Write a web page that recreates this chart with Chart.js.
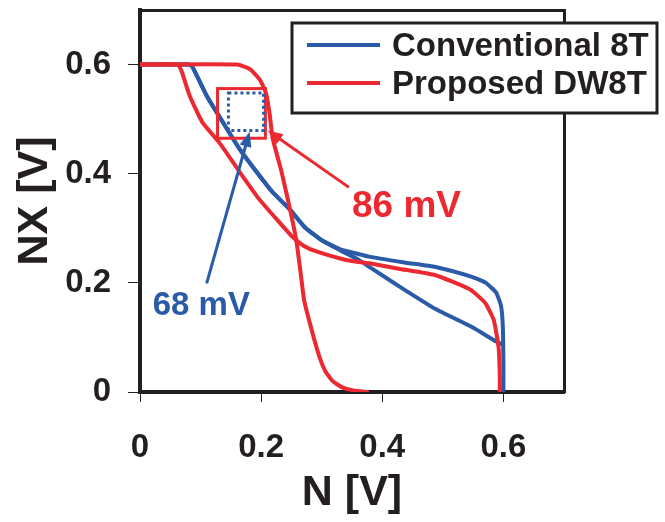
<!DOCTYPE html>
<html>
<head>
<meta charset="utf-8">
<title>Butterfly curves: Conventional 8T vs Proposed DW8T</title>
<script src="https://cdn.jsdelivr.net/npm/chart.js@4.4.1/dist/chart.umd.min.js"></script>
<style>
  html, body { margin: 0; padding: 0; background: #fff; }
</style>
</head>
<body>
<canvas id="snm" width="665" height="522"></canvas>
<script>
// series names (legend)
const seriesNames = ["Conventional 8T", "Proposed DW8T"];

// Conventional 8T, curve with the ~0.24 V plateau  [N, NX]
const conv8tA = [
  [0, 0.6], [0.08, 0.6], [0.086, 0.597], [0.110, 0.543], [0.137, 0.494], [0.164, 0.446],
  [0.192, 0.404], [0.219, 0.366], [0.247, 0.335], [0.272, 0.302], [0.300, 0.278], [0.330, 0.262],
  [0.378, 0.248], [0.439, 0.237], [0.488, 0.229], [0.548, 0.211], [0.571, 0.200], [0.588, 0.182],
  [0.596, 0.158], [0.599, 0.12], [0.600, 0.05], [0.600, 0]
];
// Conventional 8T, lower branch
const conv8tB = [
  [0, 0.6], [0.08, 0.6], [0.086, 0.597], [0.110, 0.543], [0.137, 0.494], [0.164, 0.446],
  [0.192, 0.404], [0.219, 0.366], [0.247, 0.335], [0.272, 0.302], [0.300, 0.278], [0.330, 0.260],
  [0.360, 0.243], [0.383, 0.226], [0.433, 0.190], [0.488, 0.152], [0.548, 0.119], [0.589, 0.092],
  [0.597, 0.088]
];
// Proposed DW8T, steep curve
const dw8tA = [
  [0, 0.6], [0.16, 0.6], [0.181, 0.592], [0.198, 0.572], [0.208, 0.548], [0.214, 0.51],
  [0.219, 0.465], [0.234, 0.402], [0.248, 0.333], [0.258, 0.278], [0.265, 0.22], [0.271, 0.168],
  [0.279, 0.132], [0.288, 0.095], [0.297, 0.062], [0.306, 0.038], [0.318, 0.020], [0.333, 0.009],
  [0.352, 0.003], [0.375, 0]
];
// Proposed DW8T, plateau curve
const dw8tB = [
  [0, 0.6], [0.062, 0.6], [0.068, 0.59], [0.082, 0.543], [0.103, 0.494], [0.131, 0.457],
  [0.164, 0.404], [0.197, 0.353], [0.230, 0.311], [0.252, 0.284], [0.27, 0.268], [0.29, 0.258],
  [0.34, 0.242], [0.383, 0.235], [0.427, 0.226], [0.488, 0.214], [0.545, 0.188], [0.57, 0.163],
  [0.584, 0.132], [0.592, 0.082], [0.594, 0.03], [0.594, 0]
];

// ticks
const xTickVals = [0, 0.2, 0.4, 0.6];
const xTickLabels = ["0", "0.2", "0.4", "0.6"];
const yTickVals = [0, 0.2, 0.4, 0.6];
const yTickLabels = ["0", "0.2", "0.4", "0.6"];

// SNM boxes and callouts, in data units [N, NX]
const dwBox = [[0.128, 0.465], [0.207, 0.556]];
const convBox = [[0.146, 0.479], [0.204, 0.548]];
const dwArrow = [[0.345, 0.375], [0.211, 0.479]];
const convArrow = [[0.110, 0.199], [0.181, 0.477]];
const dwText = ["86 mV", 0.350, 0.320];
const convText = ["68 mV", 0.021, 0.141];

const BLUE = "#2b5ba8";
const RED = "#ec2830";
const INK = "#231f20";
const FONT = "'Liberation Sans', Arial, Helvetica, sans-serif";

const toXY = arr => arr.map(p => ({ x: p[0], y: p[1] }));

function arrow(ctx, x0, y0, x1, y1, color) {
  const a = Math.atan2(y1 - y0, x1 - x0);
  const len = 15, hw = 6;
  ctx.strokeStyle = color;
  ctx.fillStyle = color;
  ctx.lineWidth = 3;
  ctx.beginPath();
  ctx.moveTo(x0, y0);
  ctx.lineTo(x1 - Math.cos(a) * len * 0.8, y1 - Math.sin(a) * len * 0.8);
  ctx.stroke();
  ctx.beginPath();
  ctx.moveTo(x1, y1);
  ctx.lineTo(x1 - Math.cos(a) * len - Math.sin(a) * hw, y1 - Math.sin(a) * len + Math.cos(a) * hw);
  ctx.lineTo(x1 - Math.cos(a) * len + Math.sin(a) * hw, y1 - Math.sin(a) * len - Math.cos(a) * hw);
  ctx.closePath();
  ctx.fill();
}

const annotate = {
  id: "annotate",
  afterDatasetsDraw(chart) {
    const ctx = chart.ctx;
    const sx = chart.scales.x, sy = chart.scales.y;
    const px = v => sx.getPixelForValue(v);
    const py = v => sy.getPixelForValue(v);
    ctx.save();
    // red SNM square
    ctx.strokeStyle = RED;
    ctx.lineWidth = 3;
    ctx.strokeRect(px(dwBox[0][0]), py(dwBox[1][1]), px(dwBox[1][0]) - px(dwBox[0][0]), py(dwBox[0][1]) - py(dwBox[1][1]));
    // blue dotted SNM square
    ctx.strokeStyle = BLUE;
    ctx.setLineDash([3, 3]);
    ctx.strokeRect(px(convBox[0][0]), py(convBox[1][1]), px(convBox[1][0]) - px(convBox[0][0]), py(convBox[0][1]) - py(convBox[1][1]));
    ctx.setLineDash([]);
    arrow(ctx, px(dwArrow[0][0]), py(dwArrow[0][1]), px(dwArrow[1][0]), py(dwArrow[1][1]), RED);
    arrow(ctx, px(convArrow[0][0]), py(convArrow[0][1]), px(convArrow[1][0]), py(convArrow[1][1]), BLUE);
    ctx.textAlign = "left";
    ctx.textBaseline = "alphabetic";
    ctx.fillStyle = RED;
    ctx.font = "bold 37px " + FONT;
    ctx.fillText(dwText[0], px(dwText[1]), py(dwText[2]));
    ctx.fillStyle = BLUE;
    ctx.font = "bold 33px " + FONT;
    ctx.fillText(convText[0], px(convText[1]), py(convText[2]));
    ctx.restore();
  },
  afterDraw(chart) {
    // boxed legend, top right
    const ctx = chart.ctx;
    ctx.save();
    ctx.fillStyle = "#fff";
    ctx.fillRect(292, 23, 365, 90);
    ctx.strokeStyle = INK;
    ctx.lineWidth = 3;
    ctx.strokeRect(292, 23, 365, 90);
    const rows = [[seriesNames[0], BLUE, 45], [seriesNames[1], RED, 83]];
    ctx.font = "bold 33px " + FONT;
    ctx.textAlign = "left";
    ctx.textBaseline = "middle";
    rows.forEach(([name, col, y]) => {
      ctx.strokeStyle = col;
      ctx.lineWidth = 4;
      ctx.beginPath();
      ctx.moveTo(307, y);
      ctx.lineTo(380, y);
      ctx.stroke();
      ctx.fillStyle = INK;
      ctx.fillText(name, 392, y + 2);
    });
    ctx.restore();
  }
};

const tickFont = { family: FONT, size: 33, weight: "bold" };
const titleFont = { family: FONT, size: 43, weight: "bold" };

// fixed axis sizes, and no automatic label padding around the plot
const fixSize = (w, h) => s => {
  if (w !== null) s.width = w;
  if (h !== null) s.height = h;
  s.paddingTop = 0; s.paddingBottom = 0; s.paddingLeft = 0; s.paddingRight = 0;
};

new Chart(document.getElementById("snm"), {
  type: "line",
  data: {
    datasets: [
      { label: seriesNames[1], data: toXY(dw8tA), borderColor: RED, order: 0 },
      { label: seriesNames[1], data: toXY(dw8tB), borderColor: RED, order: 0 },
      { label: seriesNames[0], data: toXY(conv8tA), borderColor: BLUE, order: 1 },
      { label: seriesNames[0], data: toXY(conv8tB), borderColor: BLUE, order: 1 }
    ]
  },
  options: {
    responsive: false,
    animation: false,
    elements: {
      point: { radius: 0 },
      line: { borderWidth: 4, tension: 0.15, fill: false, borderCapStyle: "round", borderJoinStyle: "round" }
    },
    layout: { autoPadding: false, padding: { top: 10, right: 101, left: 0, bottom: 0 } },
    plugins: { legend: { display: false }, tooltip: { enabled: false } },
    scales: {
      x: {
        type: "linear", position: "bottom", min: 0, max: 0.7,
        afterBuildTicks: s => { s.ticks = xTickVals.map(v => ({ value: v })); },
        afterFit: fixSize(null, 130),
        grid: { drawOnChartArea: false, drawTicks: true, tickLength: 10, tickColor: INK, lineWidth: 1 },
        border: { display: true, color: INK, width: 4 },
        ticks: { color: INK, font: tickFont, padding: 26, maxRotation: 0, autoSkip: false,
                 callback: (v, i) => xTickLabels[i] },
        title: { display: true, text: "N [V]", color: INK, font: titleFont, padding: { top: 0, bottom: 3 } }
      },
      y: {
        type: "linear", position: "left", min: 0, max: 0.7,
        afterBuildTicks: s => { s.ticks = yTickVals.map(v => ({ value: v })); },
        afterFit: fixSize(140, null),
        grid: { drawOnChartArea: false, drawTicks: true, tickLength: 12, tickColor: INK, lineWidth: 1 },
        border: { display: true, color: INK, width: 4 },
        ticks: { color: INK, font: tickFont, padding: 17, autoSkip: false,
                 callback: (v, i) => yTickLabels[i] },
        title: { display: true, text: "NX [V]", color: INK, font: titleFont, padding: { top: 9, bottom: 0 } }
      },
      x2: {
        type: "linear", position: "top", min: 0, max: 0.7,
        afterFit: fixSize(null, 0),
        grid: { display: false },
        ticks: { display: false },
        border: { display: true, color: INK, width: 3 }
      },
      y2: {
        type: "linear", position: "right", min: 0, max: 0.7,
        afterFit: fixSize(0, null),
        grid: { display: false },
        ticks: { display: false },
        border: { display: true, color: INK, width: 3 }
      }
    }
  },
  plugins: [annotate]
});
</script>
</body>
</html>
